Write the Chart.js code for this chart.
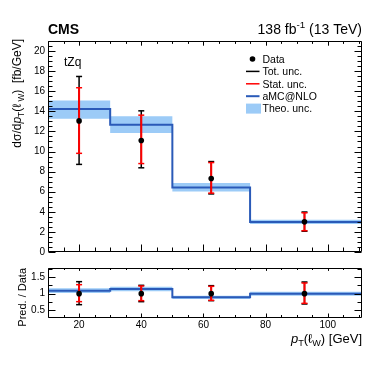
<!DOCTYPE html>
<html>
<head>
<meta charset="utf-8">
<script src="https://cdn.jsdelivr.net/npm/chart.js@4.4.1/dist/chart.umd.min.js"></script>
<style>
  body { margin: 0; background: #fff; }
  #wrap { position: relative; width: 374px; height: 367px; }
  #wrap canvas { position: absolute; left: 0; top: 0; }
</style>
</head>
<body>
<div id="wrap">
  <canvas id="mainChart" width="374" height="367"></canvas>
  <canvas id="ratioChart" width="374" height="367"></canvas>
</div>
<script>
// bins in pT(lW) [GeV]
const binEdges = [10, 30, 50, 75, 111];
const binCenters = [20, 40, 62.5, 92.5];

// measured cross section [fb/GeV]
const dataValues = [13.05, 11.1, 7.32, 3.0];
const totLow = [8.72, 8.38, 5.78, 2.07];
const totHigh = [17.47, 14.05, 9.0, 3.98];
const statLow = [9.82, 8.8, 5.86, 2.12];
const statHigh = [16.35, 13.62, 8.9, 3.9];

// aMC@NLO prediction and theory band
const predValues = [14.22, 12.66, 6.43, 2.99];
const theoLow = [13.27, 11.85, 6.02, 2.78];
const theoHigh = [15.07, 13.5, 6.86, 3.2];

// ratio panel (pred / data)
const ratioPred = [1.09, 1.14, 0.89, 1.0];
const ratioTheoLow = [1.02, 1.07, 0.84, 0.94];
const ratioTheoHigh = [1.16, 1.21, 0.94, 1.06];
const ratioTotLow = [0.67, 0.76, 0.79, 0.69];
const ratioTotHigh = [1.36, 1.25, 1.24, 1.35];
const ratioStatLow = [0.76, 0.79, 0.8, 0.71];
const ratioStatHigh = [1.27, 1.23, 1.22, 1.32];

const yTicks = [0, 2, 4, 6, 8, 10, 12, 14, 16, 18, 20];
const ratioTicks = [0.5, 1, 1.5];
const xTicks = [20, 40, 60, 80, 100];

const FONT = '"Liberation Sans", Arial, Helvetica, sans-serif';
const BLUE = '#2a5ab8';
const BAND = '#9ccbf7';
const RED = '#ff0000';

function stepPoints(values) {
    return binEdges.map((x, i) => ({ x, y: values[Math.min(i, values.length - 1)] }));
}

function errorBarPoints(lo, hi) {
    return binCenters.flatMap((x, i) => [
        { x, y: lo[i] },
        { x, y: hi[i] },
        { x, y: null },
    ]);
}

function makeDatasets(pred, bLow, bHigh, tLow, tHigh, sLow, sHigh, points) {
    return [
        {
            data: stepPoints(bHigh), stepped: true, fill: '+1',
            backgroundColor: BAND, borderColor: 'transparent',
            pointRadius: 0, order: 5,
        },
        {
            data: stepPoints(bLow), stepped: true, fill: false,
            borderColor: 'transparent', pointRadius: 0, order: 5,
        },
        {
            data: stepPoints(pred), stepped: true, fill: false,
            borderColor: BLUE, borderWidth: 2, pointRadius: 0, order: 4,
        },
        {
            data: errorBarPoints(tLow, tHigh), fill: false, spanGaps: false,
            borderColor: '#000', borderWidth: 1.5,
            pointStyle: 'line', pointRadius: 3, pointBorderWidth: 1.5,
            pointBorderColor: '#000', order: 3,
        },
        {
            data: errorBarPoints(sLow, sHigh), fill: false, spanGaps: false,
            borderColor: RED, borderWidth: 2,
            pointStyle: 'line', pointRadius: 3, pointBorderWidth: 1.5,
            pointBorderColor: RED, order: 2,
        },
        {
            data: binCenters.map((x, i) => ({ x, y: points[i] })),
            showLine: false, pointStyle: 'circle', pointRadius: 2.8,
            pointBackgroundColor: '#000', pointBorderColor: '#000',
            pointBorderWidth: 0, order: 1,
        },
    ];
}

// draws "ROOT style" frame with inward ticks on all four sides
const rootAxes = {
    id: 'rootAxes',
    afterDraw(chart, args, o) {
        const { ctx, chartArea: a, scales } = chart;
        const L = Math.round(a.left) + 0.5, R = Math.round(a.right) - 0.5;
        const T = Math.round(a.top) + 0.5, B = Math.round(a.bottom) - 0.5;
        ctx.save();
        ctx.strokeStyle = '#000';
        ctx.lineWidth = 1;
        ctx.beginPath();
        ctx.rect(L, T, R - L, B - T);
        const x = scales.x, y = scales.y;
        for (let v = Math.ceil(x.min / o.xMinor) * o.xMinor; v <= x.max + 1e-9; v += o.xMinor) {
            const px = Math.round(x.getPixelForValue(v)) + 0.5;
            const major = Math.abs(v / o.xMajor - Math.round(v / o.xMajor)) < 1e-6;
            const len = major ? o.xLen[0] : o.xLen[1];
            ctx.moveTo(px, B); ctx.lineTo(px, B - len);
            ctx.moveTo(px, T); ctx.lineTo(px, T + len * o.topScale);
        }
        for (let v = Math.ceil(y.min / o.yMinor) * o.yMinor; v <= y.max + 1e-9; v += o.yMinor) {
            const py = Math.round(y.getPixelForValue(v)) + 0.5;
            const major = Math.abs(v / o.yMajor - Math.round(v / o.yMajor)) < 1e-6;
            const len = major ? o.yLen[0] : o.yLen[1];
            ctx.moveTo(L, py); ctx.lineTo(L + len, py);
            ctx.moveTo(R, py); ctx.lineTo(R - len, py);
        }
        ctx.stroke();
        ctx.restore();
    },
};

// text with italic / subscript / superscript pieces
function richText(ctx, parts, size, x, y, align) {
    const fontOf = (p) => (p.b ? 'bold ' : '') + (p.i ? 'italic ' : '') +
        ((p.sub || p.sup) ? size * 0.7 : size) + 'px ' + FONT;
    const widths = parts.map((p) => { ctx.font = fontOf(p); return ctx.measureText(p.t).width; });
    const total = widths.reduce((s, w) => s + w, 0);
    let cx = align === 'right' ? x - total : x;
    ctx.textAlign = 'left';
    ctx.textBaseline = 'alphabetic';
    parts.forEach((p, i) => {
        ctx.font = fontOf(p);
        const dy = p.sub ? size * 0.25 : p.sup ? -size * 0.4 : 0;
        ctx.fillText(p.t, cx, y + dy);
        cx += widths[i];
    });
}

const legendItems = [
    { label: 'Data', kind: 'dot', color: '#000' },
    { label: 'Tot. unc.', kind: 'line', color: '#000' },
    { label: 'Stat. unc.', kind: 'line', color: RED },
    { label: 'aMC@NLO', kind: 'line', color: BLUE },
    { label: 'Theo. unc.', kind: 'box', color: BAND },
];

const mainText = {
    id: 'mainText',
    afterDraw(chart) {
        const { ctx, chartArea: a } = chart;
        ctx.save();
        ctx.fillStyle = '#000';
        richText(ctx, [{ t: 'CMS', b: true }], 14, a.left, 34);
        richText(ctx, [{ t: '138 fb' }, { t: '-1', sup: true }, { t: ' (13 TeV)' }], 14, a.right, 34, 'right');
        richText(ctx, [{ t: 'tZq' }], 12, 64, 65.5);

        ctx.save();
        ctx.translate(21, 39);
        ctx.rotate(-Math.PI / 2);
        richText(ctx, [
            { t: 'd\u03c3/d' }, { t: 'p', i: true }, { t: 'T', sub: true },
            { t: '(\u2113' }, { t: ' W', sub: true }, { t: ')  [fb/GeV]' },
        ], 12, 0, 0, 'right');
        ctx.restore();

        legendItems.forEach((it, i) => {
            const yy = 59 + i * 12.4;
            if (it.kind === 'dot') {
                ctx.beginPath();
                ctx.arc(252.5, yy, 2.8, 0, Math.PI * 2);
                ctx.fillStyle = it.color;
                ctx.fill();
            } else if (it.kind === 'line') {
                ctx.beginPath();
                ctx.moveTo(246, yy);
                ctx.lineTo(259.5, yy);
                ctx.strokeStyle = it.color;
                ctx.lineWidth = it.color === BLUE ? 2 : 1.5;
                ctx.stroke();
            } else {
                ctx.fillStyle = it.color;
                ctx.fillRect(246, yy - 5, 15, 10);
            }
            ctx.fillStyle = '#000';
            richText(ctx, [{ t: it.label }], 10.5, 262.5, yy + 3.8);
        });
        ctx.restore();
    },
};

const ratioText = {
    id: 'ratioText',
    afterDraw(chart) {
        const { ctx, chartArea: a } = chart;
        ctx.save();
        ctx.fillStyle = '#000';
        ctx.save();
        ctx.translate(26, a.top);
        ctx.rotate(-Math.PI / 2);
        richText(ctx, [{ t: 'Pred. / Data' }], 11, 0, 0, 'right');
        ctx.restore();
        richText(ctx, [
            { t: 'p', i: true }, { t: 'T', sub: true }, { t: '(\u2113' },
            { t: 'W', sub: true }, { t: ') [GeV]' },
        ], 13, a.right, 343, 'right');
        ctx.restore();
    },
};

const tickFont = { family: FONT, size: 10 };

function yScale(min, max, ticks) {
    return {
        type: 'linear', min, max,
        grid: { display: false, drawTicks: false },
        border: { display: false },
        ticks: { color: '#000', font: tickFont, padding: 3, callback: (v) => String(v) },
        afterBuildTicks: (s) => { s.ticks = ticks.map((v) => ({ value: v })); },
        afterFit: (s) => { s.width = 48; },
    };
}

new Chart(document.getElementById('mainChart'), {
    type: 'line',
    data: {
        datasets: makeDatasets(predValues, theoLow, theoHigh, totLow, totHigh,
            statLow, statHigh, dataValues),
    },
    options: {
        responsive: false, animation: false, devicePixelRatio: 1, events: [],
        layout: { padding: { top: 41, right: 12, bottom: 115, left: 0 } },
        plugins: {
            legend: { display: false }, tooltip: { enabled: false },
            rootAxes: { xMajor: 20, xMinor: 5, yMajor: 2, yMinor: 0.5, xLen: [7, 4], yLen: [7, 4], topScale: 0.6 },
        },
        scales: {
            x: { type: 'linear', min: 10, max: 111, display: false },
            y: yScale(0, 21, yTicks),
        },
    },
    plugins: [rootAxes, mainText],
});

new Chart(document.getElementById('ratioChart'), {
    type: 'line',
    data: {
        datasets: makeDatasets(ratioPred, ratioTheoLow, ratioTheoHigh, ratioTotLow,
            ratioTotHigh, ratioStatLow, ratioStatHigh, [1, 1, 1, 1]),
    },
    options: {
        responsive: false, animation: false, devicePixelRatio: 1, events: [],
        layout: { padding: { top: 268, right: 12, bottom: 29, left: 0 } },
        plugins: {
            legend: { display: false }, tooltip: { enabled: false },
            rootAxes: { xMajor: 20, xMinor: 5, yMajor: 0.5, yMinor: 0.25, xLen: [4, 2.5], yLen: [7, 4], topScale: 0.6 },
        },
        scales: {
            x: {
                type: 'linear', min: 10, max: 111,
                grid: { display: false, drawTicks: false },
                border: { display: false },
                ticks: { color: '#000', font: tickFont, padding: 1, maxRotation: 0 },
                afterBuildTicks: (s) => { s.ticks = xTicks.map((v) => ({ value: v })); },
                afterFit: (s) => { s.height = 20; },
            },
            y: yScale(0.27, 1.77, ratioTicks),
        },
    },
    plugins: [rootAxes, ratioText],
});
</script>
</body>
</html>
